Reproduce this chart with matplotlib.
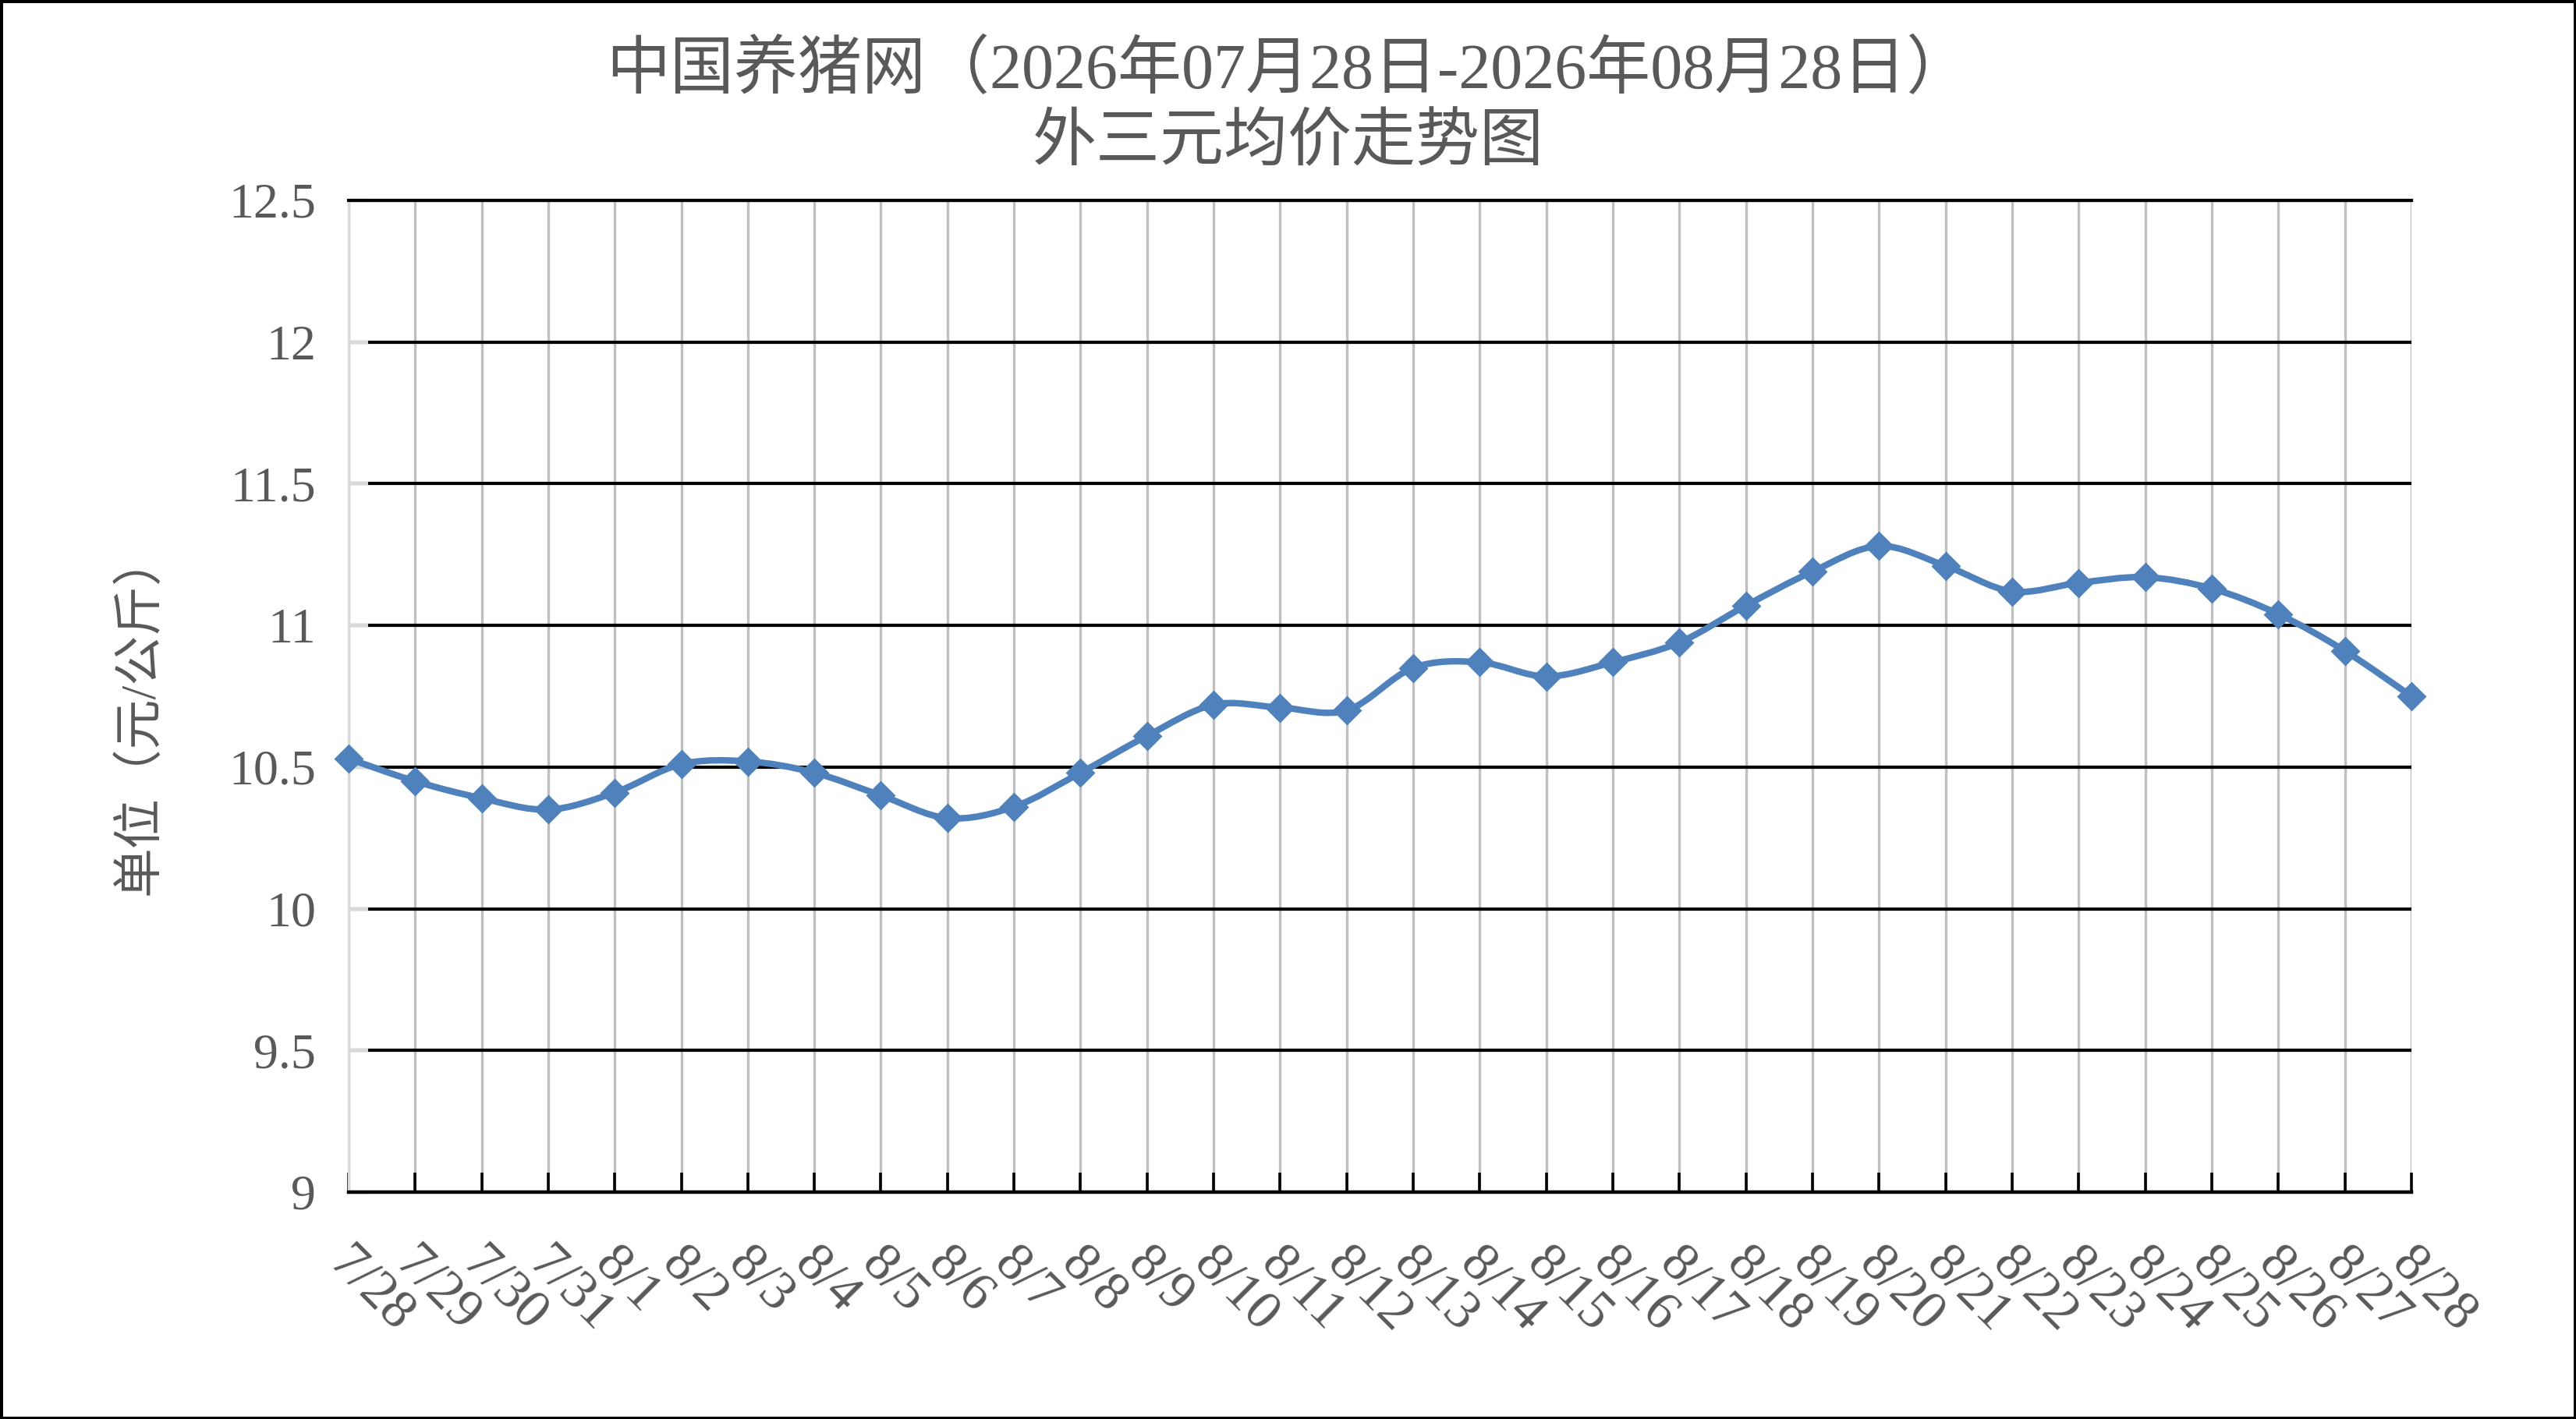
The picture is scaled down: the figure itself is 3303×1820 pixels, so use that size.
# 外三元均价走势图 (2026-07-28 ~ 2026-08-28)
import numpy as np
import matplotlib
matplotlib.use("Agg")
import matplotlib.pyplot as plt
import matplotlib.transforms as mtransforms
from matplotlib.path import Path
from matplotlib.patches import PathPatch, Rectangle

plt.rcParams['font.family'] = ['Liberation Serif', 'Noto Sans CJK SC', 'DejaVu Sans']

# ---- data ----
dates = ["7/28", "7/29", "7/30", "7/31",
         "8/1", "8/2", "8/3", "8/4", "8/5", "8/6", "8/7", "8/8", "8/9", "8/10",
         "8/11", "8/12", "8/13", "8/14", "8/15", "8/16", "8/17", "8/18", "8/19",
         "8/20", "8/21", "8/22", "8/23", "8/24", "8/25", "8/26", "8/27", "8/28"]
prices = [10.53, 10.45, 10.39, 10.35, 10.41, 10.51, 10.52, 10.48, 10.40, 10.32,
          10.36, 10.48, 10.61, 10.72, 10.71, 10.70, 10.85, 10.87, 10.82, 10.87,
          10.94, 11.07, 11.19, 11.28, 11.21, 11.12, 11.15, 11.17, 11.13, 11.04,
          10.91, 10.75]
y_ticks = [9, 9.5, 10, 10.5, 11, 11.5, 12, 12.5]
y_labels = ["9", "9.5", "10", "10.5", "11", "11.5", "12", "12.5"]

title_1 = "中国养猪网（2026年07月28日-2026年08月28日）"
title_2 = "外三元均价走势图"
y_title = "单位（元/公斤）"

TEXT = "#595959"
LINE = "#4F81BD"


def smooth_path(x, y):
    """Excel-like smoothed line: Catmull-Rom segments as cubic Beziers."""
    pts = np.column_stack([x, y]).astype(float)
    n = len(pts)
    verts = [pts[0]]
    codes = [Path.MOVETO]
    for i in range(n - 1):
        p0 = pts[max(i - 1, 0)]
        p1 = pts[i]
        p2 = pts[i + 1]
        p3 = pts[min(i + 2, n - 1)]
        verts += [p1 + (p2 - p0) / 6, p2 - (p3 - p1) / 6, p2]
        codes += [Path.CURVE4] * 3
    return Path(verts, codes)


def main():
    dpi = 200
    fig = plt.figure(figsize=(3303 / dpi, 1820 / dpi), dpi=dpi)
    ax = fig.add_axes([0.1353, 0.1599, 0.9361 - 0.1353, 0.8588 - 0.1599])

    x = np.arange(len(dates))

    # smoothed line + diamond markers
    ax.add_patch(PathPatch(smooth_path(x, prices), fill=False,
                           edgecolor=LINE, lw=3.0, zorder=3,
                           capstyle='round', joinstyle='round'))
    ax.plot(x, prices, ls='none', marker='D', ms=8.5, color=LINE,
            zorder=4, clip_on=False)

    ax.set_xlim(0, len(dates) - 1)
    ax.set_ylim(9, 12.5)
    ax.set_xticks(x)
    ax.set_xticklabels([])
    ax.set_yticks(y_ticks)
    ax.set_yticklabels(y_labels)

    ax.xaxis.grid(True, color="#BFBFBF", lw=1.2)
    ax.yaxis.grid(True, color="black", lw=1.5)

    ax.tick_params(axis='x', direction='in', length=9, width=1.3,
                   color='black')
    ax.tick_params(axis='y', direction='in', length=9, width=1.5,
                   color='#D9D9D9', pad=15, labelsize=23, labelcolor=TEXT)

    ax.spines["right"].set_visible(False)
    ax.spines["top"].set_color("black")
    ax.spines["top"].set_linewidth(1.5)
    ax.spines["left"].set_color("#D9D9D9")
    ax.spines["left"].set_linewidth(1.2)
    ax.spines["bottom"].set_color("black")
    ax.spines["bottom"].set_linewidth(1.6)

    # x labels: rotated -45 degrees below each category
    offset = mtransforms.ScaledTranslation(-16 / dpi, -82 / dpi,
                                           fig.dpi_scale_trans)
    trans = ax.get_xaxis_transform() + offset
    for xi, lab in zip(x, dates):
        ax.text(xi, 0, lab, transform=trans, rotation=-45,
                rotation_mode='anchor', ha='left', va='center',
                fontsize=25, color=TEXT, clip_on=False)

    ax.set_ylabel(y_title, fontsize=23, color=TEXT)
    ax.yaxis.set_label_coords(-0.0895, 0.482)

    fig.text(0.5, 1 - 92 / 1820, title_1, ha='center', va='center',
             fontsize=29.5, color=TEXT)
    fig.text(0.5, 1 - 185 / 1820, title_2, ha='center', va='center',
             fontsize=29.5, color=TEXT)

    # outer frame
    fig.patches.append(Rectangle((0, 0), 1, 1, transform=fig.transFigure,
                                 fill=False, lw=2.5, edgecolor='black'))

    fig.savefig("out.png", dpi=dpi)


if __name__ == "__main__":
    main()
